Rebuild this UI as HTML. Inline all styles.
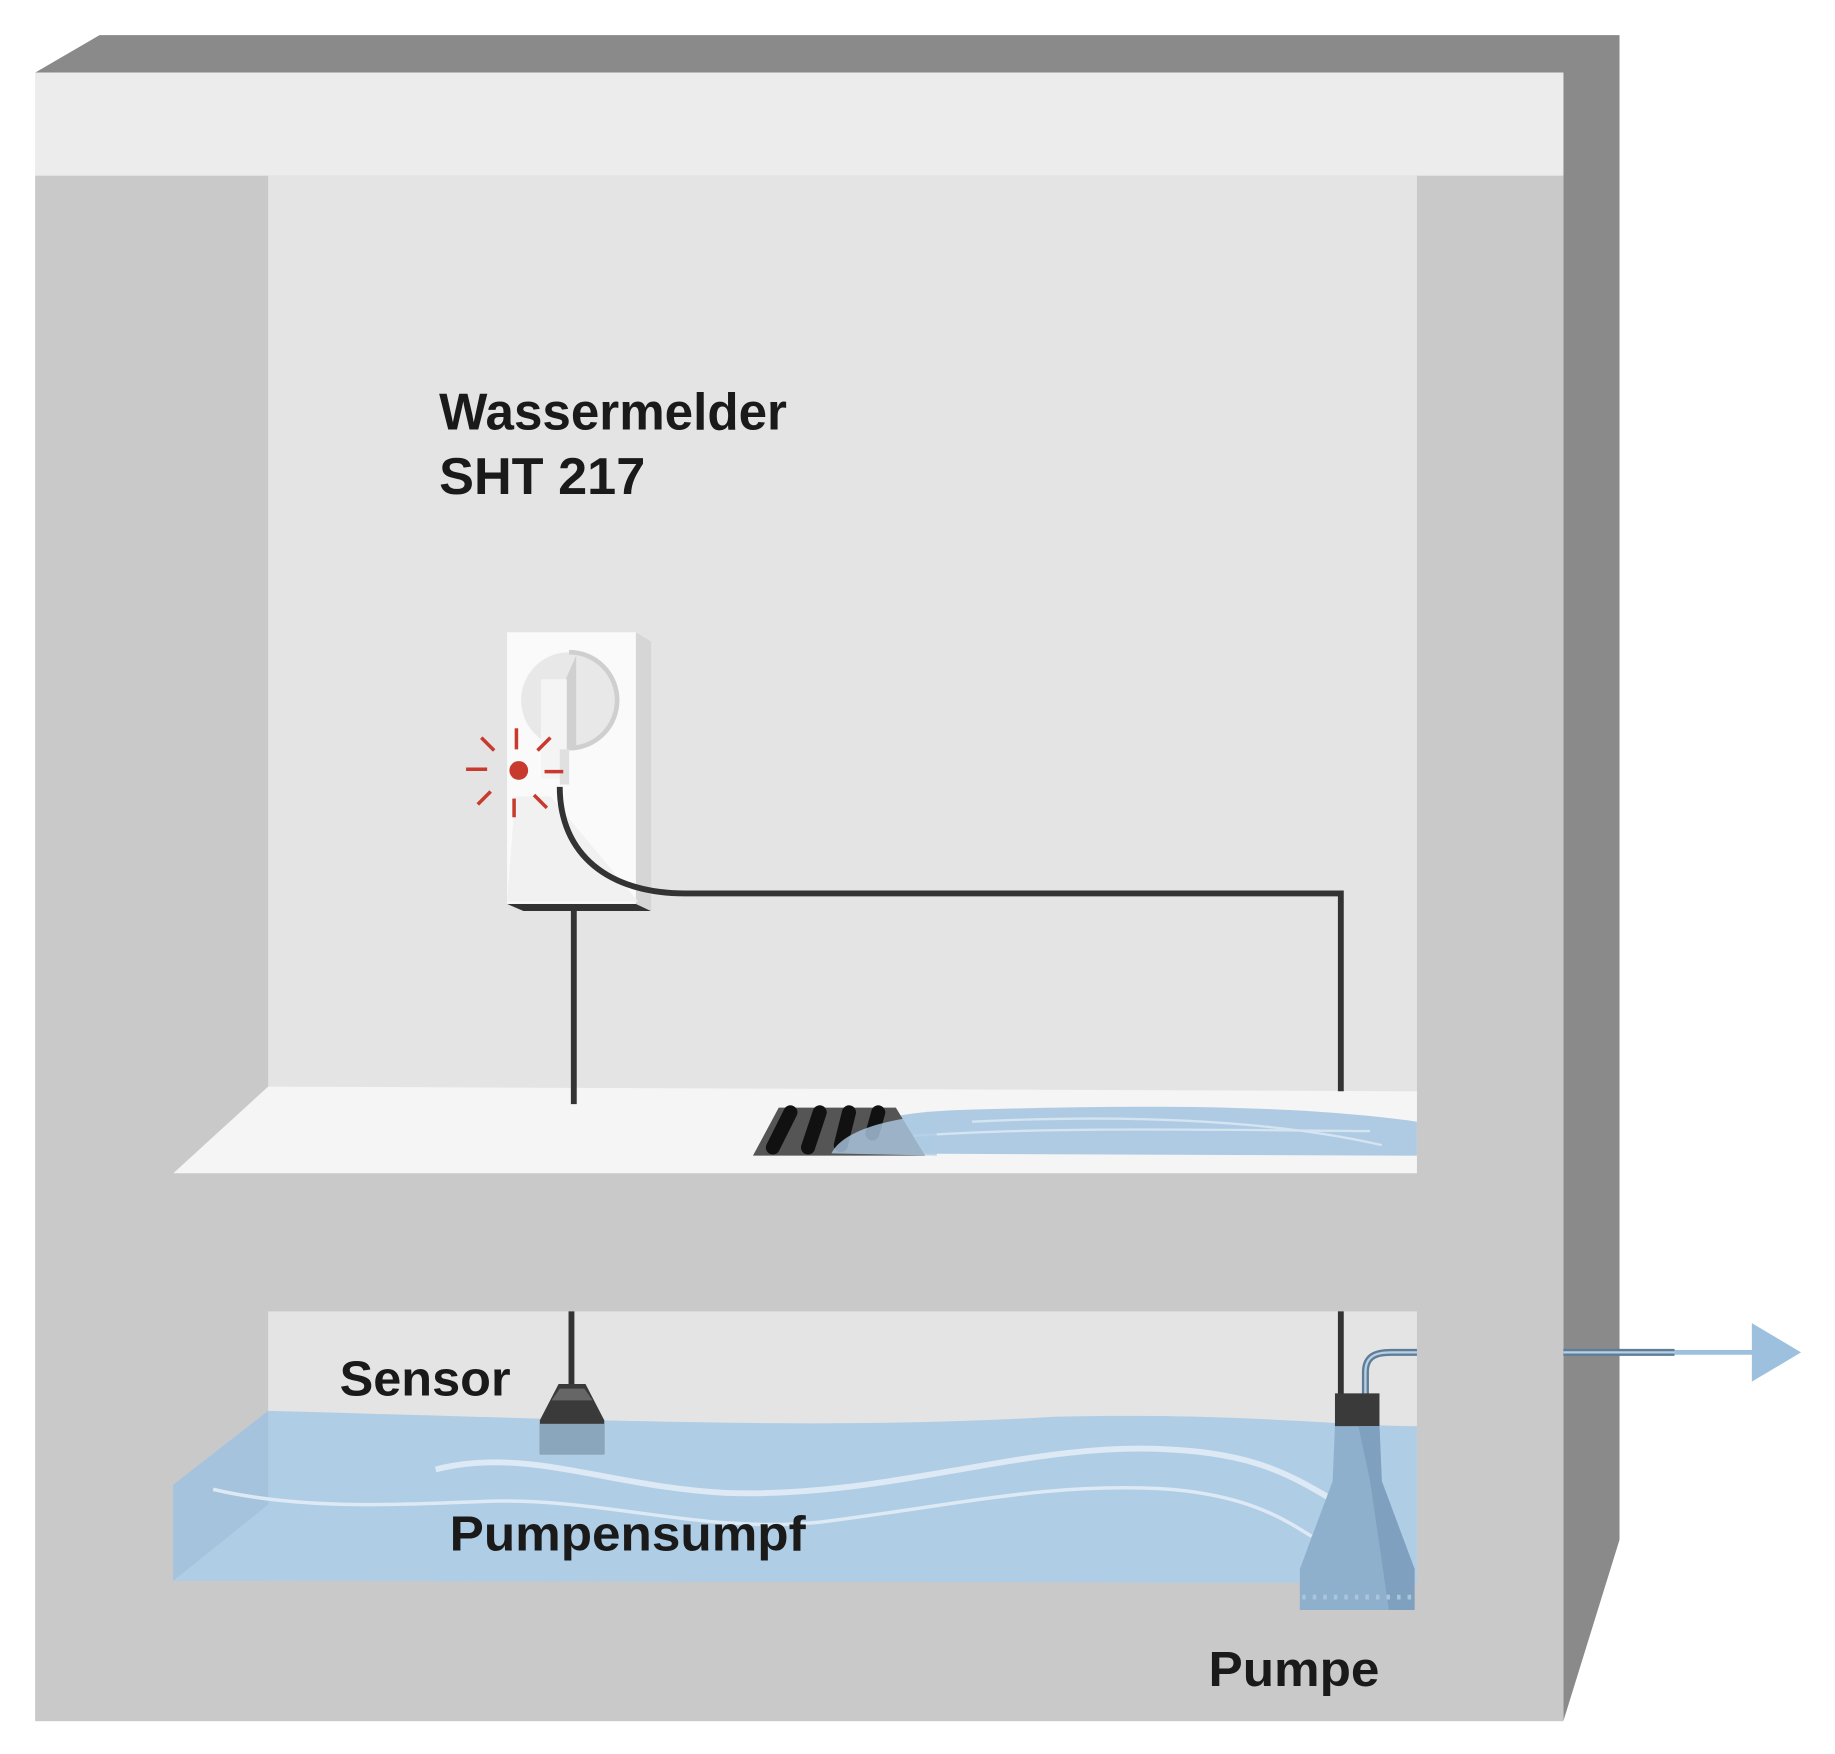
<!DOCTYPE html>
<html><head><meta charset="utf-8"><style>html,body{margin:0;padding:0;background:#fff}svg{display:block}</style></head>
<body>
<svg width="1835" height="1754" viewBox="0 0 1567 1498" preserveAspectRatio="none" xmlns="http://www.w3.org/2000/svg">
<rect width="1567" height="1498" fill="#fff"/>
<polygon points="30,62 85,30 1383,30 1383,1315 1335,1470 1335,62" fill="#8a8a8a"/>
<rect x="30" y="62" width="1305" height="88" fill="#ececec"/>
<rect x="30" y="150" width="1305" height="1320" fill="#c9c9c9"/>
<rect x="229" y="150" width="981" height="785" fill="#e4e4e4"/>
<polygon points="148,1002 229,928 1210,932 1210,1002" fill="#f5f5f5"/>
<rect x="229" y="1120" width="981" height="230" fill="#e4e4e4"/>
<path d="M710,985 C720,960 760,950 820,948 C950,944 1100,942 1210,958 L1210,987 Z" fill="#aecbe3"/>
<path d="M830,958 C950,952 1080,955 1180,978" stroke="#d4e4f1" stroke-width="2" fill="none"/>
<path d="M780,970 C900,962 1030,965 1170,966" stroke="#d4e4f1" stroke-width="2" fill="none"/>
<polygon points="643,987 665,946 765,946 790,987" fill="#555"/>
<g stroke="#111" stroke-width="12" stroke-linecap="round">
<line x1="675" y1="950" x2="660" y2="980"/><line x1="700" y1="950" x2="690" y2="980"/><line x1="725" y1="950" x2="718" y2="978"/><line x1="750" y1="950" x2="745" y2="968"/>
</g>
<path d="M710,985 C720,965 760,955 800,952 L800,987 Z" fill="#aecbe3" opacity="0.8"/>
<polygon points="148,1268 229,1205 229,1350 148,1350" fill="#a9c8e0"/>
<path d="M229,1205 C500,1212 700,1222 900,1210 C1050,1206 1150,1218 1210,1218 L1210,1352 L148,1350 L148,1268 Z" fill="#afcde5"/>
<path d="M148,1268 L229,1205 L229,1285 L148,1350 Z" fill="#a5c3dc"/>
<path d="M372,1255 C450,1235 520,1270 620,1275 C760,1280 880,1230 1000,1238 C1080,1242 1110,1265 1150,1288" stroke="#dde9f4" stroke-width="5" fill="none"/>
<path d="M182,1272 C260,1290 340,1285 420,1282 C520,1280 600,1310 700,1300 C820,1285 900,1265 1000,1272 C1070,1278 1100,1300 1120,1312" stroke="#dde9f4" stroke-width="3" fill="none"/>
<polygon points="433,772 543,772 556,778 447,778" fill="#333"/>
<polygon points="543,540 556,548 556,778 543,772" fill="#d6d6d6"/>
<rect x="433" y="540" width="110" height="232" fill="#fafafa"/>
<circle cx="486" cy="598" r="41" fill="#e8e8e8"/>
<path d="M486,557 A41,41 0 0 1 486,639" stroke="#cfcfcf" stroke-width="4" fill="none"/>
<polygon points="440,680 470,680 545,770 433,770" fill="#f1f1f1"/>
<polygon points="483,580 492,560 492,640 483,640" fill="#d0d0d0"/>
<rect x="462" y="580" width="22" height="85" fill="#f4f4f4"/>
<rect x="478" y="640" width="8" height="30" fill="#e0e0e0"/>
<circle cx="443" cy="658" r="8" fill="#c83a2d"/>
<g stroke="#c83a2d" stroke-width="3">
<line x1="441" y1="622" x2="441" y2="640"/><line x1="439" y1="682" x2="439" y2="698"/>
<line x1="398" y1="657" x2="416" y2="657"/><line x1="465" y1="659" x2="481" y2="659"/>
<line x1="411" y1="630" x2="422" y2="641"/><line x1="470" y1="630" x2="459" y2="641"/>
<line x1="408" y1="687" x2="419" y2="676"/><line x1="467" y1="690" x2="456" y2="679"/>
</g>
<g stroke="#333" stroke-width="5" fill="none">
<path d="M478,672 C478,730 520,763 585,763 L1145,763 L1145,932"/>
<line x1="490" y1="778" x2="490" y2="943"/>
<line x1="488" y1="1120" x2="488" y2="1185"/>
<line x1="1145" y1="1120" x2="1145" y2="1192"/>
</g>
<polygon points="461,1213 477,1182 500,1182 516,1213 516,1242 461,1242" fill="#3a3a3a"/>
<polygon points="478,1186 499,1186 506,1196 471,1196" fill="#666"/>
<rect x="461" y="1216" width="55" height="26" fill="#8aa6bd"/>
<path d="M1166,1192 L1166,1172 C1166,1158 1175,1155 1188,1155 L1210,1155" stroke="#5f7d96" stroke-width="6" fill="none"/>
<path d="M1166,1192 L1166,1172 C1166,1158 1175,1155 1188,1155 L1210,1155" stroke="#b7d0e5" stroke-width="2" fill="none"/>
<rect x="1140" y="1190" width="38" height="30" fill="#3a3a3a"/>
<polygon points="1140,1218 1178,1218 1180,1265 1208,1340 1208,1375 1110,1375 1110,1340 1138,1265" fill="#8fb0cc"/>
<polygon points="1160,1218 1178,1218 1180,1265 1208,1340 1208,1375 1186,1375 1170,1265" fill="#7fa1bf"/>
<line x1="1112" y1="1364" x2="1206" y2="1364" stroke="#aac5dc" stroke-width="4" stroke-dasharray="3,6"/>
<line x1="1335" y1="1155" x2="1430" y2="1155" stroke="#5f7d96" stroke-width="6"/>
<line x1="1335" y1="1155" x2="1430" y2="1155" stroke="#b7d0e5" stroke-width="2"/>
<line x1="1430" y1="1155" x2="1500" y2="1155" stroke="#9cc0dd" stroke-width="4"/>
<polygon points="1496,1130 1538,1155 1496,1180" fill="#9cc0dd"/>
<g font-family="Liberation Sans, sans-serif" font-weight="bold" fill="#1a1a1a">
<text x="375" y="367" font-size="44" textLength="297" lengthAdjust="spacingAndGlyphs">Wassermelder</text>
<text x="375" y="422" font-size="44" textLength="176" lengthAdjust="spacingAndGlyphs">SHT 217</text>
<text x="290" y="1192" font-size="42" textLength="146" lengthAdjust="spacingAndGlyphs">Sensor</text>
<text x="384" y="1324" font-size="42" textLength="304" lengthAdjust="spacingAndGlyphs">Pumpensumpf</text>
<text x="1032" y="1440" font-size="42" textLength="146" lengthAdjust="spacingAndGlyphs">Pumpe</text>
</g>
</svg>
</body></html>
